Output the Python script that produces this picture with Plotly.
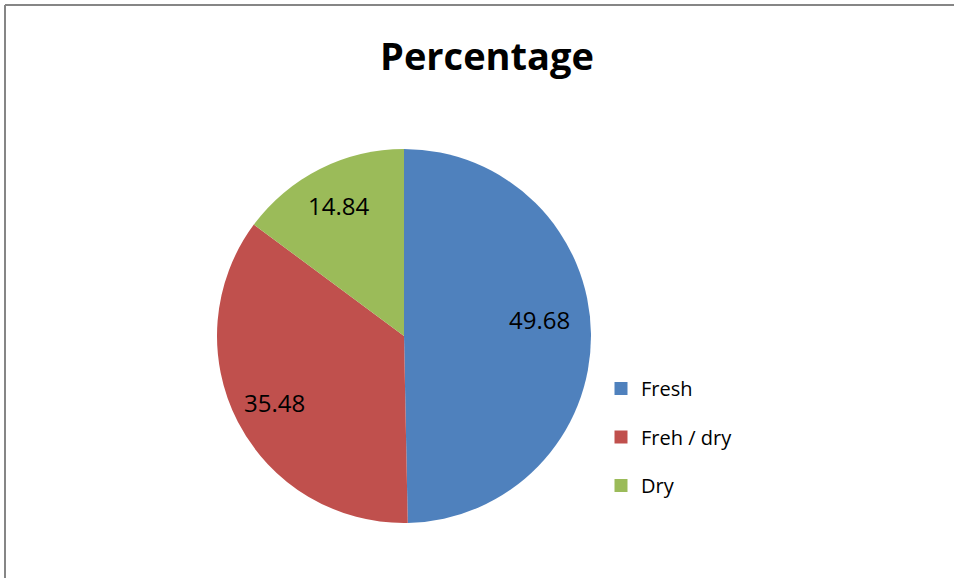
import math
import plotly.graph_objects as go

# Share of samples by condition
categories = ["Fresh", "Freh / dry", "Dry"]
percentages = [49.68, 35.48, 14.84]
colors = ["#4F81BD", "#C0504D", "#9BBB59"]

W, H = 954, 578
FONT = "'Open Sans', 'Noto Sans', sans-serif"

fig = go.Figure()

# Pie: starts at 12 o'clock, runs clockwise
cx, cy, r = 404, 336, 187
fig.add_trace(go.Pie(
    labels=categories,
    values=percentages,
    sort=False,
    direction="clockwise",
    rotation=0,
    marker=dict(colors=colors, line=dict(width=0)),
    textinfo="none",
    hoverinfo="label+value",
    showlegend=False,
    domain=dict(x=[(cx - r) / W, (cx + r) / W], y=[(H - cy - r) / H, (H - cy + r) / H]),
))

# Value labels placed near each slice's bisector (radius fraction, angle nudge in degrees)
label_radius = [0.73, 0.78, 0.78]
label_nudge = [-6.5, 0.0, 0.0]
total = sum(percentages)
start = 0.0
for val, frac, nudge in zip(percentages, label_radius, label_nudge):
    mid = (start + val / 2) / total * 2 * math.pi + math.radians(nudge)
    start += val
    px = cx + r * frac * math.sin(mid)
    py = cy - r * frac * math.cos(mid)
    fig.add_annotation(
        x=px / W, y=1 - py / H, xref="paper", yref="paper",
        text=f"{val:.2f}", showarrow=False,
        xanchor="center", yanchor="middle",
        font=dict(family=FONT, size=24, color="black"),
    )

# Legend entries as square markers, one group each for spacing control
for name, col in zip(categories, colors):
    fig.add_trace(go.Scatter(
        x=[None], y=[None], mode="markers", name=name,
        legendgroup=name,
        marker=dict(symbol="square", size=13, color=col),
    ))

# Chart-area border (top and left edges visible)
fig.add_shape(type="line", xref="paper", yref="paper",
              x0=5 / W, x1=1.01, y0=1 - 5 / H, y1=1 - 5 / H,
              line=dict(color="#868686", width=2))
fig.add_shape(type="line", xref="paper", yref="paper",
              x0=5 / W, x1=5 / W, y0=1 - 5 / H, y1=-0.01,
              line=dict(color="#868686", width=2))

fig.update_layout(
    width=W, height=H,
    margin=dict(l=0, r=0, t=0, b=0),
    paper_bgcolor="white", plot_bgcolor="white",
    xaxis=dict(visible=False), yaxis=dict(visible=False),
    title=dict(text="<b>Percentage</b>", x=487 / W, xanchor="center",
               y=1 - 57 / H, yanchor="middle",
               font=dict(family=FONT, size=38, color="black")),
    legend=dict(x=601 / W, y=1 - 369 / H, xanchor="left", yanchor="top",
                font=dict(family=FONT, size=20, color="black"),
                tracegroupgap=19.5, bgcolor="rgba(0,0,0,0)"),
)

fig.write_html("out.html")
